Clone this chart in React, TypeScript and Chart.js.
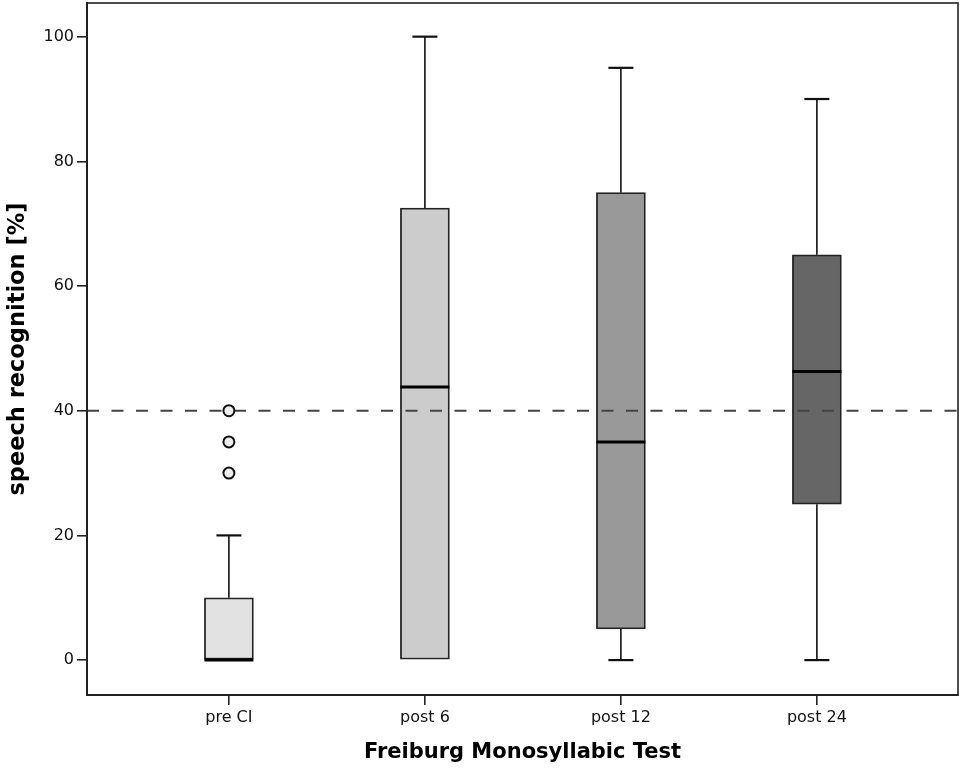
import React, { useEffect, useRef } from "react";
import { Chart, registerables } from "chart.js";

Chart.register(...registerables);

// ---- data ----
const categories = ["pre CI", "post 6", "post 12", "post 24"];
const whiskerLow = [0, 0, 0, 0];
const q1 = [0, 0, 5, 25];
const median = [0, 43.8, 35, 46.3];
const q3 = [10, 72.5, 75, 65];
const whiskerHigh = [20, 100, 95, 90];
const outlierCategory = [0, 0, 0];
const outlierValues = [30, 35, 40];
const boxColors = ["#e2e2e2", "#cccccc", "#999999", "#666666"];
const yTickValues = [0, 20, 40, 60, 80, 100];
const referenceLevel = 40;

const AXIS_FONT = "'DejaVu Sans', sans-serif";

const boxExtras = {
  id: "boxExtras",
  afterDatasetDraw(chart: any, args: any) {
    if (args.index !== 0) return;
    const ctx = chart.ctx;
    const xs = chart.scales.x;
    const ys = chart.scales.y;
    const area = chart.chartArea;
    ctx.save();
    // whiskers
    ctx.strokeStyle = "#111";
    ctx.lineCap = "butt";
    categories.forEach((_, i) => {
      const cx = xs.getPixelForValue(i);
      const capHalf = 12.5;
      const segs: [number, number][] = [
        [q3[i], whiskerHigh[i]],
        [q1[i], whiskerLow[i]],
      ];
      segs.forEach(([from, to]) => {
        if (from === to) return;
        const y0 = ys.getPixelForValue(from);
        const y1 = ys.getPixelForValue(to);
        ctx.lineWidth = 1.6;
        ctx.beginPath();
        ctx.moveTo(cx, y0);
        ctx.lineTo(cx, y1);
        ctx.stroke();
        ctx.lineWidth = 2.2;
        ctx.beginPath();
        ctx.moveTo(cx - capHalf, y1);
        ctx.lineTo(cx + capHalf, y1);
        ctx.stroke();
      });
    });
    // medians
    const meta = chart.getDatasetMeta(0);
    ctx.strokeStyle = "#000";
    ctx.lineWidth = 3;
    categories.forEach((_, i) => {
      const bar = meta.data[i];
      const half = bar.width / 2;
      const cx = xs.getPixelForValue(i);
      const my = ys.getPixelForValue(median[i]);
      ctx.beginPath();
      ctx.moveTo(cx - half, my);
      ctx.lineTo(cx + half, my);
      ctx.stroke();
    });
    // dashed reference line
    const ry = ys.getPixelForValue(referenceLevel);
    ctx.strokeStyle = "#444";
    ctx.lineWidth = 2;
    ctx.setLineDash([12, 12.5]);
    ctx.beginPath();
    ctx.moveTo(area.left, ry);
    ctx.lineTo(area.right, ry);
    ctx.stroke();
    ctx.restore();
  },
  afterDraw(chart: any) {
    const ctx = chart.ctx;
    const a = chart.chartArea;
    ctx.save();
    ctx.strokeStyle = "#222";
    ctx.lineWidth = 1.6;
    ctx.strokeRect(a.left, a.top, a.right - a.left, a.bottom - a.top);
    ctx.restore();
  },
};

export default function App() {
  const canvasRef = useRef<HTMLCanvasElement | null>(null);

  useEffect(() => {
    document.body.style.margin = "0";
    const canvas = canvasRef.current;
    if (!canvas) return;
    const chart = new Chart(canvas, {
      type: "bar",
      data: {
        datasets: [
          {
            type: "bar",
            order: 2,
            data: categories.map((_, i) => ({ x: i, y: [q1[i], q3[i]] })) as any,
            backgroundColor: boxColors,
            borderColor: "#222",
            borderWidth: 1.8,
            borderSkipped: false,
            barThickness: 49,
          } as any,
          {
            type: "scatter",
            order: 1,
            data: outlierValues.map((v, i) => ({ x: outlierCategory[i], y: v })),
            pointRadius: 5.5,
            pointBackgroundColor: "#eeeeee",
            pointBorderColor: "#111",
            pointBorderWidth: 2,
          } as any,
        ],
      },
      options: {
        animation: false,
        responsive: true,
        maintainAspectRatio: false,
        layout: { autoPadding: false, padding: { left: 0, right: 4, top: 3, bottom: 0 } },
        plugins: {
          legend: { display: false },
          tooltip: { enabled: false },
        },
        scales: {
          x: {
            type: "linear",
            offset: false,
            min: -0.724,
            max: 3.72,
            afterBuildTicks: (s: any) => {
              s.ticks = categories.map((_, i) => ({ value: i }));
            },
            afterFit: (s: any) => {
              s.height = 75;
              s.paddingLeft = 0;
              s.paddingRight = 0;
            },
            ticks: {
              callback: (v: any) => categories[v] ?? "",
              font: { family: AXIS_FONT, size: 16 },
              color: "#111",
              padding: 3,
              maxRotation: 0,
              autoSkip: false,
            },
            grid: {
              display: true,
              offset: false,
              drawOnChartArea: false,
              drawTicks: true,
              tickLength: 10,
              color: "#222",
              lineWidth: 1.6,
            },
            border: { display: true, color: "#222", width: 2 },
            title: {
              display: true,
              text: "Freiburg Monosyllabic Test",
              font: { family: AXIS_FONT, size: 21, weight: "bold" },
              color: "#000",
              padding: { top: 0, bottom: 5 },
            },
          },
          y: {
            type: "linear",
            min: -5.6,
            max: 105.4,
            afterBuildTicks: (s: any) => {
              s.ticks = yTickValues.map((v) => ({ value: v }));
            },
            afterFit: (s: any) => {
              s.width = 87;
              s.paddingTop = 0;
              s.paddingBottom = 0;
            },
            ticks: {
              font: { family: AXIS_FONT, size: 16 },
              color: "#111",
              padding: 3,
            },
            grid: {
              display: true,
              drawOnChartArea: false,
              drawTicks: true,
              tickLength: 10,
              color: "#222",
              lineWidth: 1.6,
            },
            border: { display: true, color: "#222", width: 2 },
            title: {
              display: true,
              text: "speech recognition [%]",
              font: { family: AXIS_FONT, size: 22.5, weight: "bold" },
              color: "#000",
              padding: { top: 5, bottom: 0 },
            },
          },
        },
      } as any,
      plugins: [boxExtras],
    });
    return () => chart.destroy();
  }, []);

  return (
    <div style={{ width: 962, height: 770, position: "relative", background: "#fff" }}>
      <canvas ref={canvasRef} />
    </div>
  );
}
